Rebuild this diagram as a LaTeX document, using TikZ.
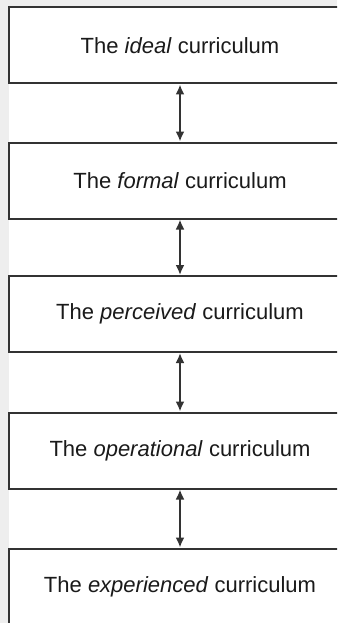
\documentclass[tikz,border=0pt]{standalone}
\usepackage{fontspec}
\setmainfont{Liberation Sans}
\usetikzlibrary{arrows.meta}
\definecolor{bggray}{HTML}{EEEEEE}
\definecolor{linecol}{HTML}{333333}
\definecolor{textcol}{HTML}{1A1A1A}
\begin{document}
\begin{tikzpicture}[x=1pt,y=-1pt,
  cbox/.style={draw=linecol, line width=2pt, fill=white, rectangle,
    minimum width=343pt, minimum height=76pt, inner sep=0pt,
    text=textcol, font=\fontsize{22}{26}\selectfont},
  link/.style={draw=linecol, line width=2pt,
    {Latex[length=10pt,width=9pt]}-{Latex[length=10pt,width=9pt]}}]
  \useasboundingbox (0,0) rectangle (337,623);
  \clip (0,0) rectangle (337,623);
  \fill[bggray] (0,0) rectangle (337,623);
  \fill[white] (8.5,8) rectangle (345,630);
  \node[cbox] (b1) at (180,45.5) {The \textit{ideal} curriculum};
  \node[cbox] (b2) at (180,180.5) {The \textit{formal} curriculum};
  \node[cbox] (b3) at (180,314) {The \textit{perceived} curriculum};
  \node[cbox] (b4) at (180,450.5) {The \textit{operational} curriculum};
  \node[cbox] (b5) at (180,586.5) {The \textit{experienced} curriculum};
  \draw[link] (b1.south) -- (b2.north);
  \draw[link] (b2.south) -- (b3.north);
  \draw[link] (b3.south) -- (b4.north);
  \draw[link] (b4.south) -- (b5.north);
\end{tikzpicture}
\end{document}
